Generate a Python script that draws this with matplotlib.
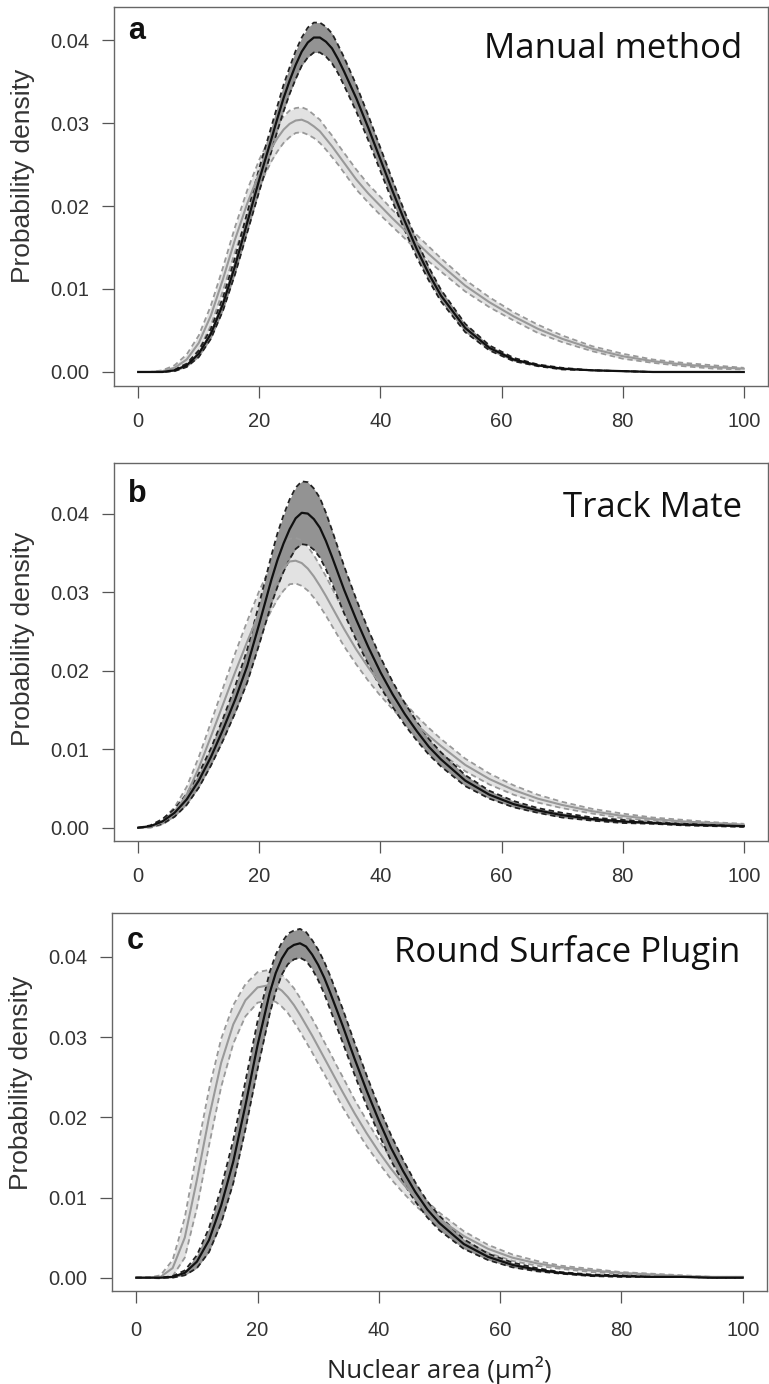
import matplotlib
matplotlib.use("Agg")
import matplotlib.pyplot as plt

# nuclear area grid (um^2), denser around the peaks
area = [0, 2, 4, 6, 8, 10, 12, 14, 16, 18, 20, 22,
        23, 24, 25, 26, 27, 28, 29, 30, 31, 32, 33, 34,
        36, 38, 40, 42, 44, 46, 48, 50,
        54, 58, 62, 66, 70,
        75, 80, 85, 90, 95, 100]

# panel a - manual method
a_dark_mean = [0, 0, 0, 0.0002, 0.0008, 0.0022, 0.0046, 0.0082, 0.0128, 0.0180, 0.0232, 0.0281,
               0.0306, 0.0330, 0.0351, 0.0370, 0.0386, 0.0397, 0.0403, 0.0403, 0.0398, 0.0390, 0.0377, 0.0362,
               0.0330, 0.0294, 0.0256, 0.0218, 0.0182, 0.0148, 0.0118, 0.0092,
               0.0053, 0.0029, 0.0015, 0.0008, 0.0004,
               0.0002, 0.0001, 0, 0, 0, 0]
a_dark_band = [0, 0, 0, 0.0001, 0.0002, 0.0004, 0.0006, 0.0008, 0.0010, 0.0012, 0.0014, 0.0015,
               0.0015, 0.0016, 0.0016, 0.0017, 0.0017, 0.0018, 0.0018, 0.0018, 0.0018, 0.0018, 0.0017, 0.0017,
               0.0016, 0.0015, 0.0014, 0.0013, 0.0011, 0.0010, 0.0008, 0.0007,
               0.0005, 0.0003, 0.0002, 0.0001, 0.0001,
               0, 0, 0, 0, 0, 0]
a_light_mean = [0, 0, 0.0001, 0.0005, 0.0015, 0.0035, 0.0068, 0.0112, 0.0160, 0.0203, 0.0240, 0.0270,
                0.0282, 0.0292, 0.0299, 0.0303, 0.0304, 0.0301, 0.0296, 0.0290, 0.0281, 0.0272, 0.0262, 0.0252,
                0.0232, 0.0215, 0.0200, 0.0185, 0.0171, 0.0156, 0.0142, 0.0129,
                0.0104, 0.0084, 0.0067, 0.0052, 0.0040,
                0.0028, 0.0019, 0.0013, 0.0009, 0.0006, 0.0004]
a_light_band = [0, 0, 0.0001, 0.0003, 0.0006, 0.0009, 0.0012, 0.0014, 0.0015, 0.0016, 0.0016, 0.0016,
                0.0016, 0.0016, 0.0016, 0.0015, 0.0015, 0.0015, 0.0014, 0.0014, 0.0013, 0.0013, 0.0012, 0.0012,
                0.0012, 0.0011, 0.0011, 0.0010, 0.0010, 0.0009, 0.0009, 0.0008,
                0.0007, 0.0006, 0.0005, 0.0005, 0.0004,
                0.0003, 0.0003, 0.0002, 0.0002, 0.0002, 0.0001]

# panel b - track mate
b_dark_mean = [0, 0.0002, 0.0008, 0.0019, 0.0036, 0.0060, 0.0090, 0.0125, 0.0163, 0.0206, 0.0260, 0.0316,
               0.0341, 0.0362, 0.0380, 0.0394, 0.0401, 0.0400, 0.0393, 0.0382, 0.0365, 0.0345, 0.0324, 0.0303,
               0.0265, 0.0230, 0.0198, 0.0170, 0.0145, 0.0123, 0.0103, 0.0087,
               0.0060, 0.0042, 0.0030, 0.0022, 0.0016,
               0.0011, 0.0008, 0.0006, 0.0004, 0.0003, 0.0002]
b_dark_band = [0, 0.0001, 0.0003, 0.0005, 0.0007, 0.0009, 0.0011, 0.0014, 0.0017, 0.0021, 0.0026, 0.0031,
               0.0034, 0.0036, 0.0038, 0.0039, 0.0040, 0.0040, 0.0039, 0.0038, 0.0036, 0.0034, 0.0032, 0.0030,
               0.0026, 0.0022, 0.0019, 0.0016, 0.0014, 0.0012, 0.0010, 0.0009,
               0.0007, 0.0005, 0.0004, 0.0003, 0.0003,
               0.0002, 0.0002, 0.0001, 0.0001, 0.0001, 0.0001]
b_light_mean = [0, 0.0001, 0.0007, 0.0020, 0.0042, 0.0076, 0.0116, 0.0157, 0.0198, 0.0237, 0.0274, 0.0306,
                0.0320, 0.0331, 0.0339, 0.0340, 0.0337, 0.0330, 0.0320, 0.0308, 0.0295, 0.0281, 0.0267, 0.0253,
                0.0227, 0.0204, 0.0183, 0.0164, 0.0147, 0.0131, 0.0117, 0.0104,
                0.0080, 0.0062, 0.0048, 0.0037, 0.0029,
                0.0021, 0.0015, 0.0011, 0.0008, 0.0006, 0.0004]
b_light_band = [0, 0.0001, 0.0003, 0.0006, 0.0010, 0.0014, 0.0018, 0.0021, 0.0024, 0.0026, 0.0028, 0.0029,
                0.0029, 0.0029, 0.0029, 0.0029, 0.0029, 0.0028, 0.0027, 0.0026, 0.0025, 0.0024, 0.0023, 0.0022,
                0.0019, 0.0017, 0.0015, 0.0013, 0.0012, 0.0011, 0.0010, 0.0009,
                0.0008, 0.0007, 0.0006, 0.0005, 0.0004,
                0.0003, 0.0003, 0.0002, 0.0002, 0.0001, 0.0001]

# panel c - round surface plugin
c_dark_mean = [0, 0, 0, 0.0001, 0.0006, 0.0020, 0.0047, 0.0090, 0.0145, 0.0215, 0.0290, 0.0355,
               0.0380, 0.0398, 0.0410, 0.0415, 0.0417, 0.0413, 0.0403, 0.0390, 0.0374, 0.0355, 0.0335, 0.0315,
               0.0273, 0.0233, 0.0196, 0.0162, 0.0133, 0.0107, 0.0085, 0.0068,
               0.0042, 0.0026, 0.0016, 0.0010, 0.0006,
               0.0003, 0.0002, 0.0001, 0.0001, 0, 0]
c_dark_band = [0, 0, 0, 0.0001, 0.0003, 0.0008, 0.0015, 0.0022, 0.0027, 0.0030, 0.0030, 0.0026,
               0.0023, 0.0020, 0.0019, 0.0018, 0.0018, 0.0018, 0.0018, 0.0019, 0.0020, 0.0021, 0.0021, 0.0021,
               0.0020, 0.0019, 0.0017, 0.0016, 0.0014, 0.0012, 0.0010, 0.0009,
               0.0006, 0.0004, 0.0003, 0.0002, 0.0001,
               0.0001, 0.0001, 0, 0, 0, 0]
c_light_mean = [0, 0, 0.0001, 0.0012, 0.0050, 0.0122, 0.0200, 0.0268, 0.0316, 0.0346, 0.0362, 0.0365,
                0.0363, 0.0358, 0.0350, 0.0340, 0.0328, 0.0315, 0.0302, 0.0288, 0.0274, 0.0260, 0.0246, 0.0232,
                0.0205, 0.0180, 0.0157, 0.0136, 0.0117, 0.0100, 0.0086, 0.0073,
                0.0052, 0.0036, 0.0025, 0.0018, 0.0013,
                0.0009, 0.0006, 0.0004, 0.0002, 0.0001, 0.0001]
c_light_band = [0, 0, 0.0002, 0.0010, 0.0025, 0.0035, 0.0035, 0.0030, 0.0024, 0.0020, 0.0019, 0.0019,
                0.0019, 0.0020, 0.0020, 0.0021, 0.0021, 0.0021, 0.0021, 0.0021, 0.0020, 0.0020, 0.0019, 0.0019,
                0.0017, 0.0016, 0.0014, 0.0013, 0.0011, 0.0010, 0.0009, 0.0008,
                0.0006, 0.0005, 0.0004, 0.0003, 0.0002,
                0.0002, 0.0001, 0.0001, 0.0001, 0, 0]

panels = [
    ("a", "Manual method", a_dark_mean, a_dark_band, a_light_mean, a_light_band),
    ("b", "Track Mate", b_dark_mean, b_dark_band, b_light_mean, b_light_band),
    ("c", "Round Surface Plugin", c_dark_mean, c_dark_band, c_light_mean, c_light_band),
]

y_ticks = [0.0, 0.01, 0.02, 0.03, 0.04]
y_tick_labels = ["0.00", "0.01", "0.02", "0.03", "0.04"]
x_ticks = [0, 20, 40, 60, 80, 100]

W, H = 769, 1384
fig = plt.figure(figsize=(W / 100, H / 100), dpi=100)

# box in pixels: left, top, right, bottom
boxes = [(114, 7, 768, 386), (114, 463, 768, 841), (112, 913, 767, 1291)]
ylims = [(-0.00169, 0.04398), (-0.00169, 0.04644), (-0.00166, 0.04548)]
title_y = [0.865, 0.857, 0.870]
letter_y = [0.915, 0.897, 0.906]
ylabel_y = [0.554, 0.535, 0.551]
xpad = [10, 10, 13]

dash = (0, (3.0, 2.0))

for i, (letter, title, dm, db, lm, lb) in enumerate(panels):
    l, t, r, b = boxes[i]
    ax = fig.add_axes([l / W, 1 - b / H, (r - l) / W, (b - t) / H])

    dk_lo = [m - s for m, s in zip(dm, db)]
    dk_hi = [m + s for m, s in zip(dm, db)]
    lt_lo = [m - s for m, s in zip(lm, lb)]
    lt_hi = [m + s for m, s in zip(lm, lb)]

    ax.fill_between(area, lt_lo, lt_hi, color="#e2e2e2", lw=0, zorder=1)
    ax.fill_between(area, dk_lo, dk_hi, color="#939393", lw=0, zorder=2)
    ax.plot(area, lt_lo, color="#999999", lw=1.3, ls=dash, zorder=3)
    ax.plot(area, lt_hi, color="#999999", lw=1.3, ls=dash, zorder=3)
    ax.plot(area, dk_lo, color="#222222", lw=1.3, ls=dash, zorder=4)
    ax.plot(area, dk_hi, color="#222222", lw=1.3, ls=dash, zorder=4)
    ax.plot(area, lm, color="#999999", lw=1.5, zorder=5)
    ax.plot(area, dm, color="#111111", lw=1.6, zorder=6)

    ax.set_xlim(-4, 104)
    ax.set_ylim(*ylims[i])
    ax.set_xticks(x_ticks)
    ax.set_yticks(y_ticks)
    ax.set_yticklabels(y_tick_labels)
    for sp in ax.spines.values():
        sp.set_color("#666666")
        sp.set_linewidth(1.0)
    ax.tick_params(axis="both", direction="out", length=8.5, width=0.9, color="#555555",
                   labelcolor="#333333", labelsize=14.5)
    ax.tick_params(axis="y", pad=9)
    ax.tick_params(axis="x", pad=xpad[i])
    for lab in ax.get_xticklabels() + ax.get_yticklabels():
        lab.set_family("Liberation Sans")

    ax.set_ylabel("Probability density", fontsize=19, family="Liberation Sans", color="#333333")
    ax.yaxis.set_label_coords(-0.121, ylabel_y[i])

    ax.text(0.022, letter_y[i], letter, transform=ax.transAxes, fontsize=22,
            fontweight="bold", family="Liberation Sans", color="#111111", va="baseline")
    ax.text(0.96, title_y[i], title, transform=ax.transAxes, fontsize=25,
            family="Open Sans", color="#111111", ha="right", va="baseline")

fig.text(439 / W, 1 - 1378 / H, "Nuclear area (µm²)", fontsize=18.5, family="Open Sans",
         color="#222222", ha="center", va="baseline")

fig.savefig("out.png", dpi=100)
